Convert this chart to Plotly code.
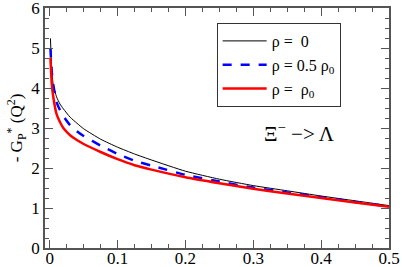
import plotly.graph_objects as go

x_vals = [0.001, 0.003, 0.005, 0.01, 0.015, 0.02, 0.03, 0.04, 0.05, 0.075, 0.1, 0.125, 0.15, 0.2, 0.25, 0.3, 0.35, 0.4, 0.45, 0.5]
rho0 = [5.24, 4.45, 4.1, 3.78, 3.6, 3.48, 3.27, 3.12, 2.98, 2.72, 2.52, 2.35, 2.2, 1.92, 1.72, 1.56, 1.43, 1.3, 1.18, 1.06]
rho_half = [4.99, 4.4, 4.1, 3.65, 3.45, 3.3, 3.07, 2.92, 2.8, 2.56, 2.35, 2.18, 2.06, 1.83, 1.66, 1.51, 1.39, 1.27, 1.15, 1.04]
rho_full = [4.76, 4.1, 3.8, 3.35, 3.15, 3.0, 2.82, 2.7, 2.6, 2.4, 2.22, 2.07, 1.96, 1.77, 1.62, 1.48, 1.36, 1.25, 1.14, 1.03]

names = ["ρ =\u00a0\u00a00", "ρ = 0.5 ρ<sub>0</sub>", "ρ =\u00a0\u00a0ρ<sub>0</sub>"]

font = "Liberation Serif"
fig = go.Figure()
fig.add_trace(go.Scatter(x=x_vals, y=rho0, mode="lines", name=names[0],
                         line=dict(color="black", width=1, shape="spline", smoothing=0.5)))
fig.add_trace(go.Scatter(x=x_vals, y=rho_half, mode="lines", name=names[1],
                         line=dict(color="#0000ff", width=2.5, dash="dash", shape="spline", smoothing=0.5)))
fig.add_trace(go.Scatter(x=x_vals, y=rho_full, mode="lines", name=names[2],
                         line=dict(color="#ff0000", width=2.5, shape="spline", smoothing=0.5)))

axis_common = dict(showline=True, linecolor="#555", linewidth=1.5, mirror="allticks",
                   ticks="inside", tickcolor="#555", ticklen=8, showgrid=False, zeroline=False,
                   automargin=False, ticklabeloverflow="allow",
                   tickfont=dict(family=font, size=17, color="black"))
fig.update_xaxes(range=[-0.007, 0.5], dtick=0.1, tick0=0, ticklabelstandoff=-6,
                 minor=dict(dtick=0.025, ticks="inside", ticklen=4, tickcolor="#555"),
                 **axis_common)
fig.update_yaxes(range=[0, 6], dtick=1, tick0=0,
                 minor=dict(dtick=0.25, ticks="inside", ticklen=4, tickcolor="#555"),
                 title=dict(text="- G<sub>P</sub><sup>*</sup> (Q<sup>2</sup>)",
                            font=dict(family=font, size=17, color="black"), standoff=4),
                 **axis_common)

fig.add_annotation(x=0.368, y=2.9, xref="x", yref="y", showarrow=False,
                   text="Ξ<sup>−</sup> −> Λ", font=dict(family=font, size=21, color="black"))

fig.update_layout(
    width=402, height=267,
    margin=dict(l=45, r=13, t=8, b=19),
    plot_bgcolor="white", paper_bgcolor="white",
    showlegend=True,
    legend=dict(x=0.499, y=0.9375, xanchor="left", yanchor="top",
                bordercolor="#333", borderwidth=1, bgcolor="white",
                font=dict(family=font, size=16, color="black"),
                tracegroupgap=0, itemwidth=44),
)

fig.write_html("out.html", config={"displayModeBar": False},
               post_script="document.body.style.margin='0';")
